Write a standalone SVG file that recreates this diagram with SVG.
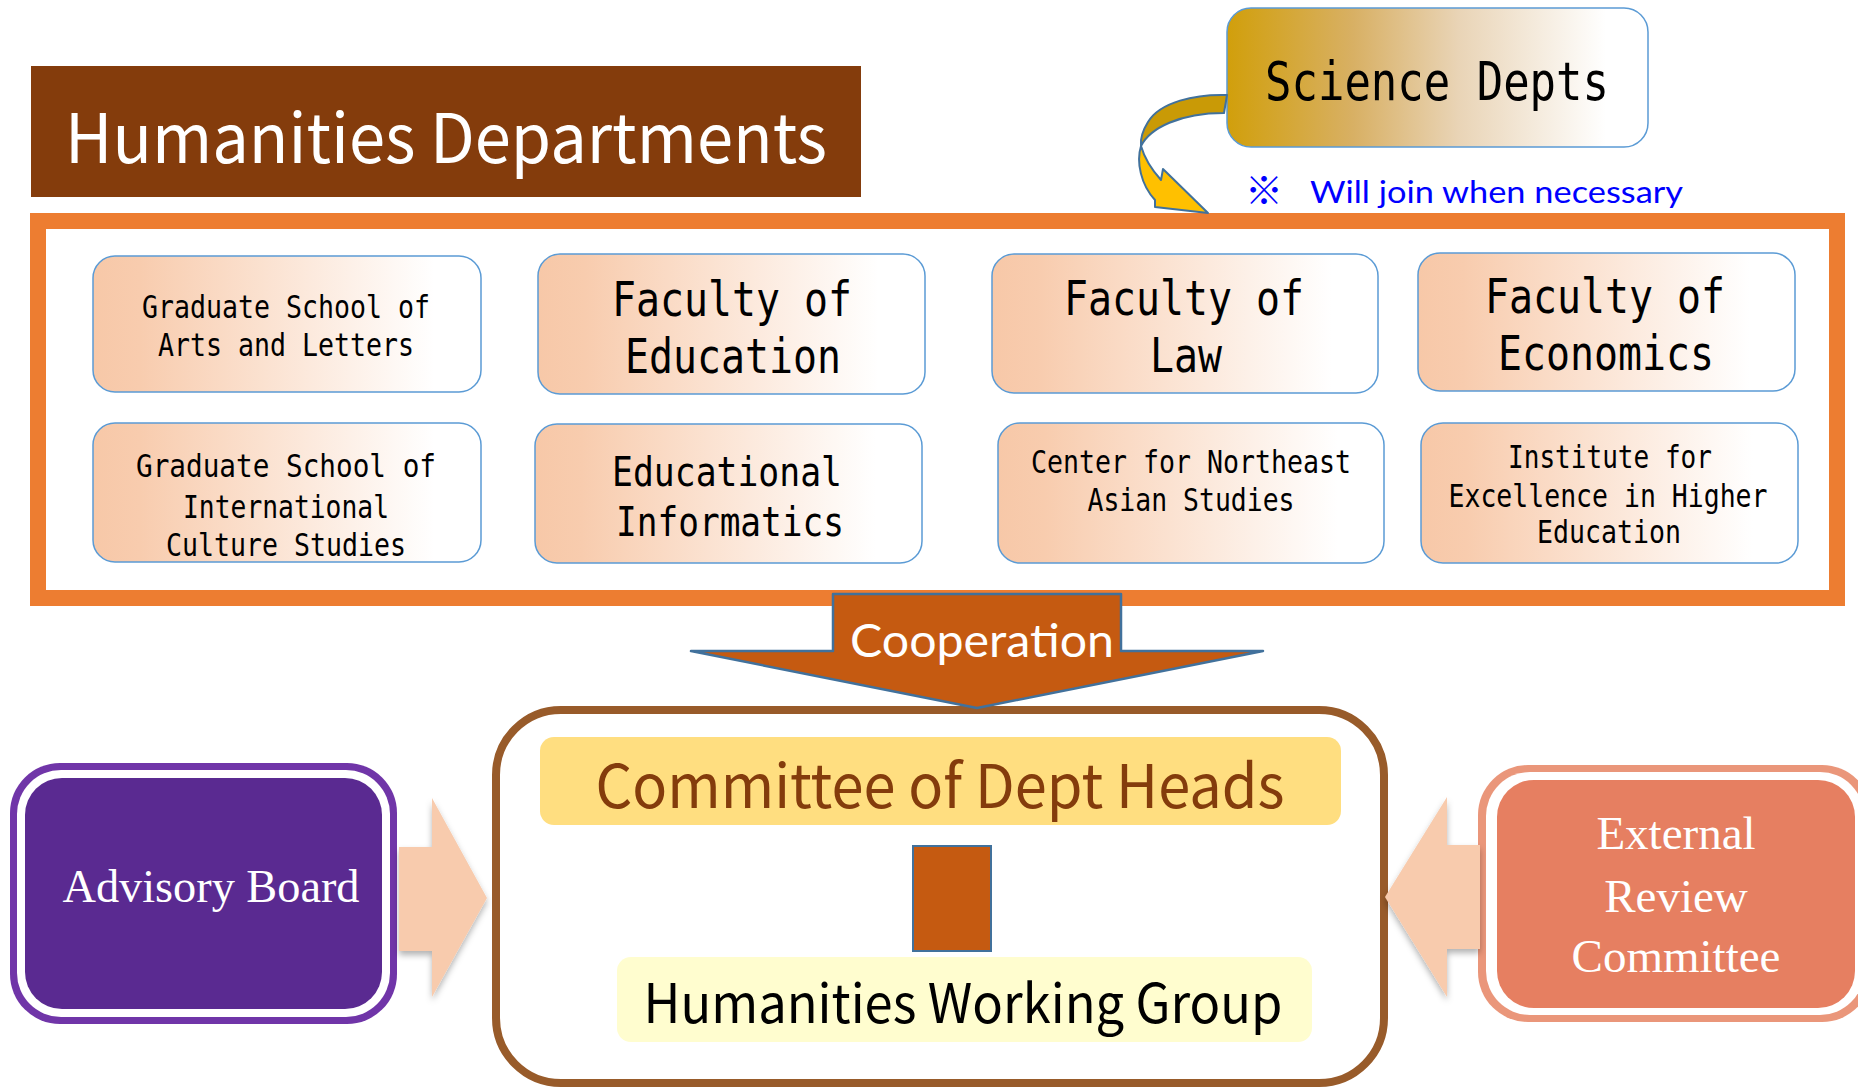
<svg xmlns="http://www.w3.org/2000/svg" width="1858" height="1088" viewBox="0 0 1858 1088">
<defs>
<linearGradient id="peach" x1="0" y1="0" x2="1" y2="0">
<stop offset="0" stop-color="#F7C8A8"/>
<stop offset="0.12" stop-color="#F8CCAE"/>
<stop offset="0.88" stop-color="#FFFFFF"/>
</linearGradient>
<linearGradient id="gold" x1="0" y1="0" x2="1" y2="0">
<stop offset="0" stop-color="#D19F0B"/>
<stop offset="0.3" stop-color="#D8B064"/>
<stop offset="0.55" stop-color="#E9D4B6"/>
<stop offset="0.9" stop-color="#FFFFFF"/>
</linearGradient>
<filter id="sh" x="-30%" y="-20%" width="160%" height="150%">
<feDropShadow dx="0" dy="4" stdDeviation="3" flood-color="#000000" flood-opacity="0.3"/>
</filter>
</defs>
<style>
.box{fill:url(#peach);stroke:#5B9BD5;stroke-width:1.5}
.mono{font-family:"DejaVu Sans Mono","Liberation Mono",monospace;fill:#000000;text-anchor:middle}
.gothic{font-family:"Noto Sans CJK JP","Noto Sans",sans-serif;text-anchor:middle}
.serif{font-family:"Liberation Serif","DejaVu Serif",serif;fill:#FFFFFF;text-anchor:middle}
.humanist{font-family:Lato,"Open Sans",sans-serif}
.peach-arrow{fill:#F8CBAD;filter:url(#sh)}
</style>

<g id="title">
<rect x="31" y="66" width="830" height="131" fill="#843C0C"/>
<text class="gothic" x="446" y="163" font-size="68" fill="#FFFFFF" textLength="762" lengthAdjust="spacingAndGlyphs">Humanities Departments</text>
</g>

<g id="humanities-frame">
<rect x="38" y="221" width="1799" height="377" fill="#FFFFFF" stroke="#ED7D31" stroke-width="16"/>
</g>

<g id="science-depts">
<rect x="1227" y="8" width="421" height="139" rx="24" fill="url(#gold)" stroke="#5B9BD5" stroke-width="1.5"/>
<text class="mono" x="1437" y="100" font-size="53" textLength="344" lengthAdjust="spacingAndGlyphs">Science Depts</text>
</g>

<g id="note">
<text x="1264" y="204" font-family="'Noto Sans CJK JP',sans-serif" font-size="38" fill="#0000FF" text-anchor="middle">※</text>
<text class="humanist" x="1310" y="203" font-size="31" fill="#0000FF" textLength="373" lengthAdjust="spacingAndGlyphs">Will join when necessary</text>
</g>

<g id="arts-letters">
<rect class="box" x="93" y="256" width="388" height="136" rx="22"/>
<text class="mono" x="286" y="318" font-size="32" textLength="288" lengthAdjust="spacingAndGlyphs">Graduate School of</text>
<text class="mono" x="286" y="356" font-size="32" textLength="256" lengthAdjust="spacingAndGlyphs">Arts and Letters</text>
</g>

<g id="education">
<rect class="box" x="538" y="254" width="387" height="140" rx="22"/>
<text class="mono" x="732" y="316" font-size="48" textLength="240" lengthAdjust="spacingAndGlyphs">Faculty of</text>
<text class="mono" x="733" y="373" font-size="48" textLength="216" lengthAdjust="spacingAndGlyphs">Education</text>
</g>

<g id="law">
<rect class="box" x="992" y="254" width="386" height="139" rx="22"/>
<text class="mono" x="1184" y="315" font-size="48" textLength="240" lengthAdjust="spacingAndGlyphs">Faculty of</text>
<text class="mono" x="1186" y="372" font-size="48" textLength="72" lengthAdjust="spacingAndGlyphs">Law</text>
</g>

<g id="economics">
<rect class="box" x="1418" y="253" width="377" height="138" rx="22"/>
<text class="mono" x="1605" y="313" font-size="48" textLength="240" lengthAdjust="spacingAndGlyphs">Faculty of</text>
<text class="mono" x="1606" y="370" font-size="48" textLength="216" lengthAdjust="spacingAndGlyphs">Economics</text>
</g>

<g id="intl-culture">
<rect class="box" x="93" y="423" width="388" height="139" rx="22"/>
<text class="mono" x="286" y="477" font-size="32" textLength="300" lengthAdjust="spacingAndGlyphs">Graduate  School of</text>
<text class="mono" x="286" y="518" font-size="32" textLength="206" lengthAdjust="spacingAndGlyphs">International</text>
<text class="mono" x="286" y="556" font-size="32" textLength="240" lengthAdjust="spacingAndGlyphs">Culture Studies</text>
</g>

<g id="edu-informatics">
<rect class="box" x="535" y="424" width="387" height="139" rx="22"/>
<text class="mono" x="727" y="486" font-size="41" textLength="230" lengthAdjust="spacingAndGlyphs">Educational</text>
<text class="mono" x="730" y="536" font-size="41" textLength="228" lengthAdjust="spacingAndGlyphs">Informatics</text>
</g>

<g id="northeast-asian">
<rect class="box" x="998" y="423" width="386" height="140" rx="22"/>
<text class="mono" x="1191" y="473" font-size="32" textLength="320" lengthAdjust="spacingAndGlyphs">Center for Northeast</text>
<text class="mono" x="1191" y="511" font-size="32" textLength="207" lengthAdjust="spacingAndGlyphs">Asian Studies</text>
</g>

<g id="higher-education">
<rect class="box" x="1421" y="423" width="377" height="140" rx="22"/>
<text class="mono" x="1610" y="468" font-size="32" textLength="204" lengthAdjust="spacingAndGlyphs">Institute for</text>
<text class="mono" x="1608" y="507" font-size="32" textLength="319" lengthAdjust="spacingAndGlyphs">Excellence in Higher</text>
<text class="mono" x="1609" y="543" font-size="32" textLength="144" lengthAdjust="spacingAndGlyphs">Education</text>
</g>

<g id="council">
<rect x="496" y="710" width="888" height="373" rx="65" fill="#FFFFFF" stroke="#985B2A" stroke-width="8"/>
</g>

<g id="committee-dept-heads">
<rect x="540" y="737" width="801" height="88" rx="14" fill="#FFDE80"/>
<text class="gothic" x="940" y="808" font-size="60" fill="#843C0C" textLength="689" lengthAdjust="spacingAndGlyphs">Committee of Dept Heads</text>
</g>

<g id="working-group">
<rect x="617" y="957" width="695" height="85" rx="14" fill="#FFFDCF"/>
<text class="gothic" x="963" y="1023" font-size="54" fill="#000000" textLength="639" lengthAdjust="spacingAndGlyphs">Humanities Working Group</text>
</g>

<g id="advisory-board">
<rect x="10" y="763" width="387" height="261" rx="50" fill="#7035A8"/>
<rect x="17" y="770" width="373" height="247" rx="44" fill="#FFFFFF"/>
<rect x="25" y="778" width="357" height="231" rx="37" fill="#5A2A91"/>
<text class="serif" x="211" y="902" font-size="47" textLength="297" lengthAdjust="spacingAndGlyphs">Advisory Board</text>
</g>

<g id="external-review">
<rect x="1478" y="765" width="394" height="257" rx="50" fill="#EA967A"/>
<rect x="1486" y="772" width="378" height="243" rx="44" fill="#FFFFFF"/>
<rect x="1497" y="780" width="358" height="228" rx="37" fill="#E67F61"/>
<text class="serif" x="1676" y="849" font-size="47">External</text>
<text class="serif" x="1676" y="912" font-size="47">Review</text>
<text class="serif" x="1676" y="972" font-size="47">Committee</text>
</g>

<g id="connectors">
<path d="M1227,95 C1195,94 1160,102 1148,122 C1143,130 1140,137 1141,146 C1150,128 1180,113 1224,113 Z" fill="#C99A06" stroke="#41719C" stroke-width="2" stroke-linejoin="round"/>
<path d="M1141,146 C1136,162 1141,185 1155,200 L1155,207 L1208,213 L1163,169 L1161,180 C1152,170 1145,160 1141,146 Z" fill="#FFC000" stroke="#41719C" stroke-width="2" stroke-linejoin="round"/>
<polygon points="833,594 1121,594 1121,651 1263,651 977,708 691,651 833,651" fill="#C55A11" stroke="#41719C" stroke-width="2.5" stroke-linejoin="round"/>
<text class="humanist" x="982" y="657" font-size="46" fill="#FFFFFF" text-anchor="middle" textLength="264" lengthAdjust="spacingAndGlyphs">Cooperation</text>
<rect x="913" y="846" width="78" height="105" fill="#C55A11" stroke="#41719C" stroke-width="2"/>
<polygon class="peach-arrow" points="399,847 432,847 432,798 487,898 432,997 432,951 399,951"/>
<polygon class="peach-arrow" points="1480,845 1447,845 1447,797 1385,897 1447,997 1447,949 1480,949"/>
</g>
</svg>
